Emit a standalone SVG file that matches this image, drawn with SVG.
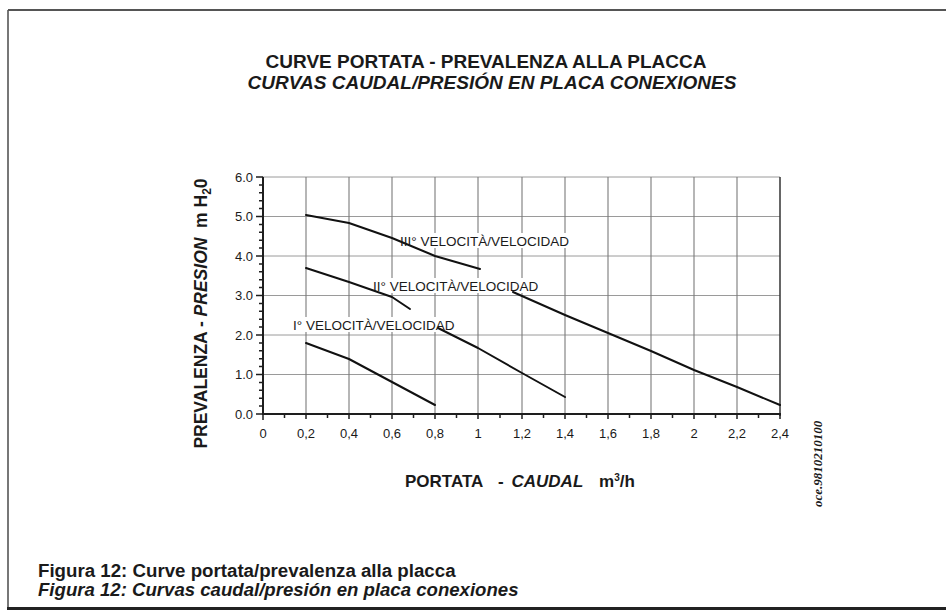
<svg xmlns="http://www.w3.org/2000/svg" width="946" height="610" viewBox="0 0 946 610">
<style>
text{font-family:"Liberation Sans",Arial,Helvetica,sans-serif;fill:#1a1a1a}
.b{font-weight:bold}
.i{font-style:italic}
.tick{font-size:13px;fill:#2a2a2a}
.lbl{font-size:13.5px;fill:#2a2a2a}
.gv{stroke:#7a7a7a;stroke-width:1.1}
.gh{stroke:#9a9a9a;stroke-width:1}
.ax{stroke:#1e1e1e;stroke-width:2;fill:none}
.tk{stroke:#1e1e1e;stroke-width:1.5}
.crv{stroke:#111;stroke-width:2;fill:none;stroke-linejoin:round;stroke-linecap:round}
</style>
<rect width="946" height="610" fill="#fff"/>
<g id="frame" fill="none">
<line x1="8" y1="10" x2="946" y2="10" stroke="#555" stroke-width="2"/>
<line x1="8" y1="10" x2="8" y2="609" stroke="#555" stroke-width="1.6"/>
<line x1="7" y1="608.5" x2="946" y2="608.5" stroke="#222" stroke-width="3"/>
</g>
<g id="title">
<text class="b" x="486" y="68" font-size="19" text-anchor="middle">CURVE PORTATA - PREVALENZA ALLA PLACCA</text>
<text class="b i" x="492" y="88.5" font-size="19" text-anchor="middle">CURVAS CAUDAL/PRESIÓN EN PLACA CONEXIONES</text>
</g>
<g id="grid">
<line class="gh" x1="263" y1="177" x2="780" y2="177"/>
<line class="gh" x1="263" y1="216.5" x2="780" y2="216.5"/>
<line class="gh" x1="263" y1="256" x2="780" y2="256"/>
<line class="gh" x1="263" y1="295.5" x2="780" y2="295.5"/>
<line class="gh" x1="263" y1="335" x2="780" y2="335"/>
<line class="gh" x1="263" y1="374.5" x2="780" y2="374.5"/>
<line class="gv" x1="306" y1="177" x2="306" y2="414"/>
<line class="gv" x1="349" y1="177" x2="349" y2="414"/>
<line class="gv" x1="392" y1="177" x2="392" y2="414"/>
<line class="gv" x1="435" y1="177" x2="435" y2="414"/>
<line class="gv" x1="478" y1="177" x2="478" y2="414"/>
<line class="gv" x1="522" y1="177" x2="522" y2="414"/>
<line class="gv" x1="565" y1="177" x2="565" y2="414"/>
<line class="gv" x1="608" y1="177" x2="608" y2="414"/>
<line class="gv" x1="651" y1="177" x2="651" y2="414"/>
<line class="gv" x1="694" y1="177" x2="694" y2="414"/>
<line class="gv" x1="737" y1="177" x2="737" y2="414"/>
<line x1="780" y1="177" x2="780" y2="416" stroke="#333" stroke-width="1.5"/>
</g>
<g id="axes">
<line class="ax" x1="263" y1="177" x2="263" y2="415"/>
<line class="ax" x1="262" y1="414" x2="781" y2="414"/>
<path class="tk" d="M256 177H263M256 216.5H263M256 256H263M256 295.5H263M256 335H263M256 374.5H263M256 414H263
M259 184.9H263M259 192.8H263M259 200.7H263M259 208.6H263
M259 224.4H263M259 232.3H263M259 240.2H263M259 248.1H263
M259 263.9H263M259 271.8H263M259 279.7H263M259 287.6H263
M259 303.4H263M259 311.3H263M259 319.2H263M259 327.1H263
M259 342.9H263M259 350.8H263M259 358.7H263M259 366.6H263
M259 382.4H263M259 390.3H263M259 398.2H263M259 406.1H263"/>
<path class="tk" d="M263 414V420M306 414V419M349 414V419M392 414V419M435 414V419M478 414V419M522 414V419M565 414V419M608 414V419M651 414V419M694 414V419M737 414V419M780 414V419
M284.5 414V418M327.5 414V418M370.5 414V418M413.5 414V418M456.5 414V418M500 414V418M543.5 414V418M586.5 414V418M629.5 414V418M672.5 414V418M715.5 414V418M758.5 414V418"/>
</g>
<g id="ylabels" class="tick" text-anchor="end">
<text x="253" y="181.5">6.0</text>
<text x="253" y="221">5.0</text>
<text x="253" y="260.5">4.0</text>
<text x="253" y="300">3.0</text>
<text x="253" y="339.5">2.0</text>
<text x="253" y="379">1.0</text>
<text x="253" y="418.5">0.0</text>
</g>
<g id="xlabels" class="tick" text-anchor="middle">
<text x="263" y="438">0</text>
<text x="306" y="438">0,2</text>
<text x="349" y="438">0,4</text>
<text x="392" y="438">0,6</text>
<text x="435" y="438">0,8</text>
<text x="478" y="438">1</text>
<text x="522" y="438">1,2</text>
<text x="565" y="438">1,4</text>
<text x="608" y="438">1,6</text>
<text x="651" y="438">1,8</text>
<text x="694" y="438">2</text>
<text x="737" y="438">2,2</text>
<text x="780" y="438">2,4</text>
</g>
<g id="label-bg" fill="#fff">
<rect x="398" y="233" width="172" height="15"/>
<rect x="371" y="278" width="168" height="15"/>
<rect x="291" y="317" width="167" height="15"/>
</g>
<g id="connectors">
<polyline id="curve-III-a" class="crv" points="306,215 349,223 392,238 435,256 480,269"/>
<polyline id="curve-III-b" class="crv" points="513,292 522,296 565,315 608,333 651,351 694,370 737,387 780,405"/>
<polyline id="curve-II-a" class="crv" points="306,268 349,282 392,297 410,309"/>
<polyline id="curve-II-b" class="crv" points="438,328 478,348 522,373 565,397"/>
<polyline id="curve-I" class="crv" points="306,343 349,359 392,382 435,405"/>
</g>
<g id="curve-labels" class="lbl">
<text x="400" y="246">III° VELOCITÀ/VELOCIDAD</text>
<text x="373" y="291">II° VELOCITÀ/VELOCIDAD</text>
<text x="293" y="330">I° VELOCITÀ/VELOCIDAD</text>
</g>
<g id="ytitle" transform="translate(207,313.5) rotate(-90)">
<text class="b" x="0" y="0" font-size="17.5" text-anchor="middle" xml:space="preserve">PREVALENZA - <tspan class="i">PRESION</tspan>  m H<tspan font-size="12" dy="4">2</tspan><tspan dy="-4">0</tspan></text>
</g>
<g id="xtitle">
<text class="b" x="405" y="487" font-size="17">PORTATA<tspan x="498">-</tspan><tspan class="i" x="511.5">CAUDAL</tspan><tspan x="599">m</tspan><tspan font-size="10" dy="-6">3</tspan><tspan dy="6">/h</tspan></text>
</g>
<g id="code">
<text transform="translate(822,507) rotate(-90)" font-weight="bold" font-style="italic" font-size="13" style="font-family:'Liberation Serif',serif">oce.9810210100</text>
</g>
<g id="caption">
<text class="b" x="38" y="577" font-size="18.7">Figura 12: Curve portata/prevalenza alla placca</text>
<text class="b i" x="38" y="596" font-size="18.6">Figura 12: Curvas caudal/presión en placa conexiones</text>
</g>
</svg>
